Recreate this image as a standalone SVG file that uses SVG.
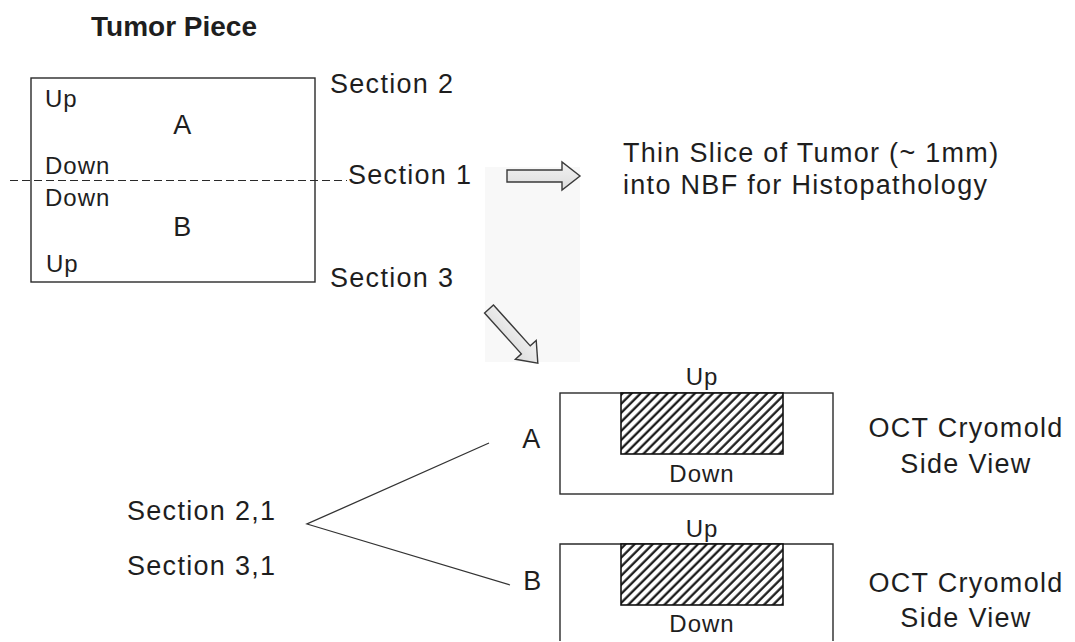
<svg xmlns="http://www.w3.org/2000/svg" width="1075" height="642" viewBox="0 0 1075 642">
  <style>
    text { font-family: "Liberation Sans", Arial, sans-serif; fill: #1e1e1e; }
    .lbl { font-size: 27px; letter-spacing: 1.3px; }
    .small { font-size: 24px; letter-spacing: 1px; }
    .title { font-size: 28px; font-weight: bold; }
    .mid { text-anchor: middle; }
    .box { fill: none; stroke: #2a2a2a; stroke-width: 1.4; }
    .hatch { fill: url(#hatch); stroke: #111; stroke-width: 1.6; }
    .link { fill: none; stroke: #333; stroke-width: 1.3; }
    .cut { fill: none; stroke: #2a2a2a; stroke-width: 1; stroke-dasharray: 8 4; }
    .block-arrow { fill: url(#arrowFill); stroke: #3a3a3a; stroke-width: 1.4; stroke-linejoin: miter; }
  </style>
  <defs>
    <pattern id="hatch" width="6.4" height="6.4" patternUnits="userSpaceOnUse" patternTransform="rotate(45)">
      <rect width="6.4" height="6.4" fill="#fff"/>
      <line x1="1.5" y1="0" x2="1.5" y2="6.4" stroke="#111" stroke-width="2.2"/>
    </pattern>
    <linearGradient id="arrowFill" x1="0" y1="0" x2="0" y2="1">
      <stop offset="0" stop-color="#f2f2f2"/>
      <stop offset="1" stop-color="#dcdcdc"/>
    </linearGradient>
    <path id="blockArrow" d="M0,-6 L55,-6 L55,-14 L73,0 L55,14 L55,6 L0,6 Z"/>
  </defs>

  <rect width="1075" height="642" fill="#fff"/>

  <!-- faint panel behind the two block arrows -->
  <rect x="485" y="167" width="95" height="195" fill="#f8f8f8"/>

  <g id="tumor-piece">
    <text class="title" x="91" y="36">Tumor Piece</text>
    <rect class="box" x="31" y="78" width="284" height="204"/>
    <text class="small" x="45" y="107">Up</text>
    <text class="lbl mid" x="183" y="134">A</text>
    <text class="small" x="45" y="174">Down</text>
    <text class="small" x="45" y="206">Down</text>
    <text class="lbl mid" x="183" y="236">B</text>
    <text class="small" x="46" y="272">Up</text>
  </g>

  <g id="section-labels">
    <text class="lbl" x="330" y="93">Section 2</text>
    <text class="lbl" x="348" y="184">Section 1</text>
    <text class="lbl" x="330" y="287">Section 3</text>
  </g>

  <g id="slice-note">
    <text class="lbl" x="623" y="162">Thin Slice of Tumor (~ 1mm)</text>
    <text class="lbl" x="623" y="194">into NBF for Histopathology</text>
  </g>

  <g id="section-pairs">
    <text class="lbl" x="127" y="520">Section 2,1</text>
    <text class="lbl" x="127" y="575">Section 3,1</text>
  </g>

  <g id="cryomold-a">
    <text class="lbl mid" x="532" y="448">A</text>
    <rect class="box" x="560" y="393" width="273" height="101"/>
    <rect class="hatch" x="621" y="393" width="162" height="61"/>
    <text class="small mid" x="702" y="385">Up</text>
    <text class="small mid" x="702" y="482">Down</text>
    <text class="lbl mid" x="966" y="437">OCT Cryomold</text>
    <text class="lbl mid" x="966" y="473">Side View</text>
  </g>

  <g id="cryomold-b">
    <text class="lbl mid" x="533" y="590">B</text>
    <path class="box" d="M560,641 L560,544 L833,544 L833,641"/>
    <rect class="hatch" x="621" y="544" width="162" height="61"/>
    <text class="small mid" x="702" y="537">Up</text>
    <text class="small mid" x="702" y="632">Down</text>
    <text class="lbl mid" x="966" y="592">OCT Cryomold</text>
    <text class="lbl mid" x="966" y="627">Side View</text>
  </g>

  <g id="connectors">
    <line class="cut" x1="10" y1="180.5" x2="347" y2="180.5"/>
    <use href="#blockArrow" class="block-arrow" transform="translate(507,176)"/>
    <use href="#blockArrow" class="block-arrow" transform="translate(489,309) rotate(48)"/>
    <polyline class="link" points="489,443 307,524 510,585"/>
  </g>
</svg>
